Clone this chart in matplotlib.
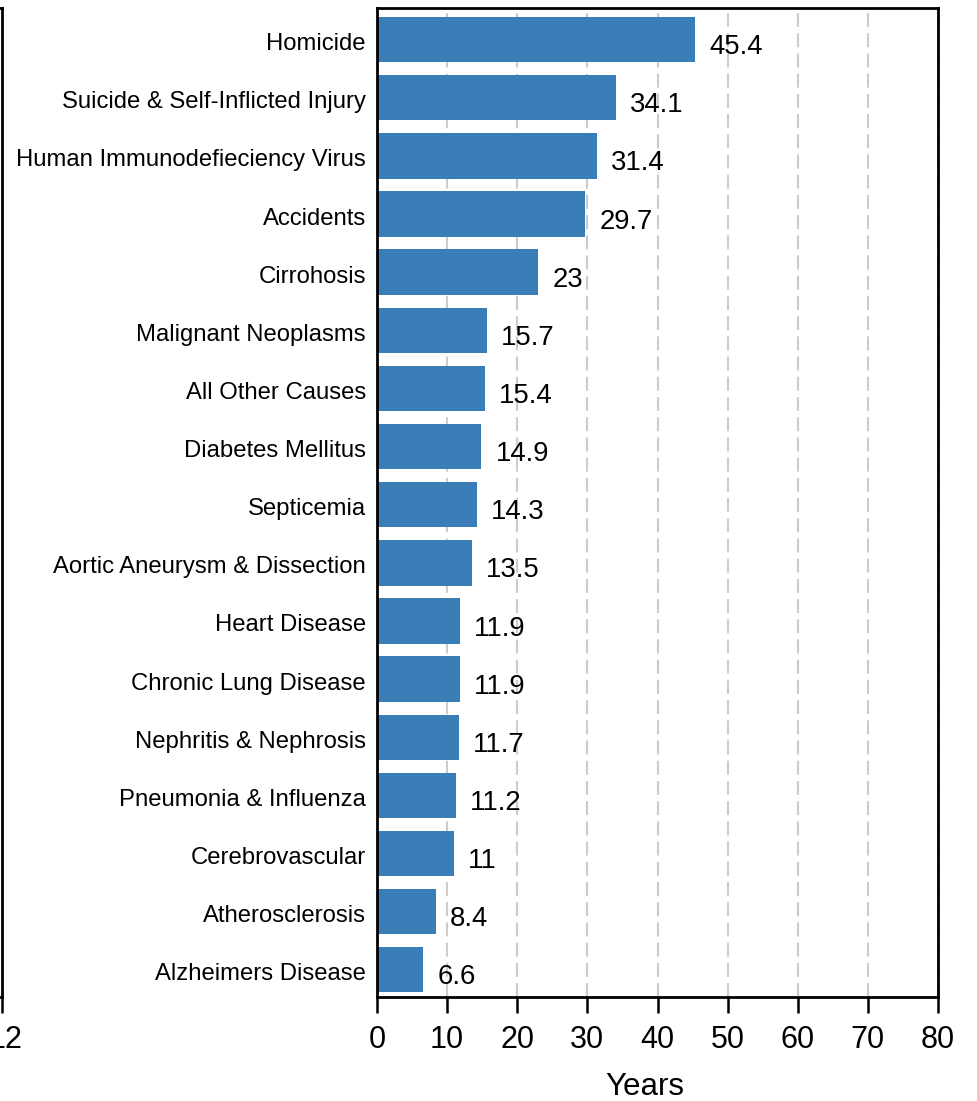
import matplotlib
matplotlib.use("Agg")
import matplotlib.pyplot as plt
import matplotlib.transforms as mtransforms

plt.rcParams['font.family'] = ['Liberation Sans', 'DejaVu Sans']

# causes, top to bottom, and years of potential life lost
causes = [
    "Homicide",
    "Suicide & Self-Inflicted Injury",
    "Human Immunodefieciency Virus",
    "Accidents",
    "Cirrohosis",
    "Malignant Neoplasms",
    "All Other Causes",
    "Diabetes Mellitus",
    "Septicemia",
    "Aortic Aneurysm & Dissection",
    "Heart Disease",
    "Chronic Lung Disease",
    "Nephritis & Nephrosis",
    "Pneumonia & Influenza",
    "Cerebrovascular",
    "Atherosclerosis",
    "Alzheimers Disease",
]
years = [45.4, 34.1, 31.4, 29.7, 23, 15.7, 15.4, 14.9, 14.3, 13.5,
         11.9, 11.9, 11.7, 11.2, 11, 8.4, 6.6]
x_ticks = [0, 10, 20, 30, 40, 50, 60, 70, 80]
left_ticks = [0, 4, 8, 12]

W, H = 977, 1101
fig = plt.figure(figsize=(W / 100, H / 100), dpi=100)

left, right, top, bottom = 377, 938, 8, 997
ax = fig.add_axes([left / W, 1 - bottom / H, (right - left) / W, (bottom - top) / H])

pos = list(range(len(causes)))
ax.barh(pos, years, height=0.78, color='#3a7eb8', zorder=2)
ax.set_ylim(len(causes) - 1 + 0.468, -0.544)
ax.set_xlim(0, 80)
ax.set_xticks(x_ticks)
ax.set_yticks(pos)
ax.set_yticklabels(causes, fontsize=17.2)
ax.tick_params(axis='y', length=0, pad=8)
ax.tick_params(axis='x', length=11.5, width=1.8, labelsize=22, pad=9)
ax.xaxis.grid(True, color='#cccccc', linewidth=1.5, linestyle=(0, (6.7, 3.0)), zorder=0)
ax.set_axisbelow(True)
for s in ax.spines.values():
    s.set_linewidth(2)

# nudge category labels a touch lower, like the original
down = mtransforms.ScaledTranslation(0, -2 / 100, fig.dpi_scale_trans)
for lab in ax.get_yticklabels():
    lab.set_transform(lab.get_transform() + down)

for p, v in zip(pos, years):
    ax.annotate(f"{v:g}", (v, p), xytext=(10, -10.5), textcoords='offset points',
                ha='left', va='baseline', fontsize=19.8)

ax.set_xlabel("Years", fontsize=22.5)
ax.xaxis.set_label_coords(0.478, -0.076)

# clipped neighbouring panel at the left edge
ax2 = fig.add_axes([-0.3, 1 - bottom / H, 0.3 + 2 / W, (bottom - top) / H])
ax2.set_xlim(0, 12)
ax2.set_xticks(left_ticks)
ax2.set_yticks([])
ax2.tick_params(axis='x', length=11.5, width=1.8, labelsize=22, pad=9)
for s in ax2.spines.values():
    s.set_linewidth(2)
shift = mtransforms.ScaledTranslation(4 / 100, 0, fig.dpi_scale_trans)
for lab in ax2.get_xticklabels():
    lab.set_transform(lab.get_transform() + shift)

fig.savefig("out.png", dpi=100)
